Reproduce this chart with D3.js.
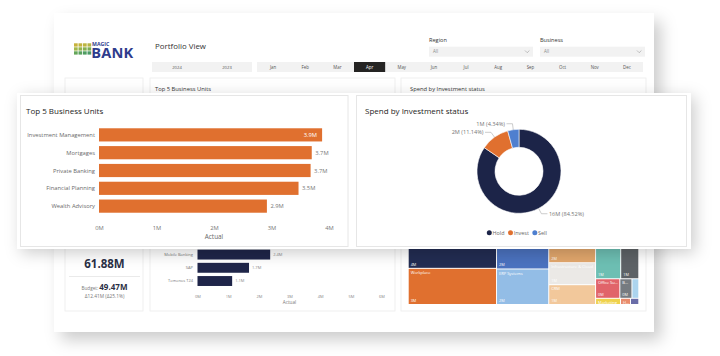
<!DOCTYPE html>
<html><head><meta charset="utf-8">
<script src="https://cdn.jsdelivr.net/npm/d3@7"></script>
<style>html,body{margin:0;padding:0;background:#fff;overflow:hidden}svg{display:block;font-family:"Open Sans",sans-serif}</style>
</head><body><svg id="c" width="720" height="356"></svg>
<script>
// ---------- data ----------
const unitNames  = ["Investment Management","Mortgages","Private Banking","Financial Planning","Wealth Advisory"];
const unitActual = [3.88,3.70,3.68,3.47,2.92];
const unitTicks  = [0,1,2,3,4];

const statusNames = ["Hold","Invest","Sell"];
const statusSpend = [16.35,2.155,0.8395];

const bgUnitNames  = ["Mobile Banking","SAP","Temenos T24"];
const bgUnitActual = [2.37,1.68,1.13];
const bgUnitTicks  = [0,1,2,3,4,5,6];

const kpiActual = 61.88;
const kpiBudget = 49.47;

const years  = ["2024","2023"];
const months = ["Jan","Feb","Mar","Apr","May","Jun","Jul","Aug","Sep","Oct","Nov","Dec"];
const selectedMonth = "Apr";

const tmNames  = ["Digital Channels","Workplace","Core Banking","ERP Systems","Security","Infrastructure & Cloud","CRM","Support","Development","Office Suite","Business Intelligence","Analytics","Marketing","HR Systems","Compliance"];
const tmValues = [3.5,3.1,2.1,1.8,1.6,1.0,0.9,1.25,0.9,0.46,0.23,0.13,0.15,0.06,0.05];
const tmGroup  = ["A","A","B","B","C","C","C","D/1","D/1","D/2","D/2","D/2","D/3","D/3","D/3"];
const tmColors = ["#222c52","#e0702f","#4b72bf","#93bde6","#e2a76c","#ebe9e6","#f2c89b","#6dbfb3","#5d6266","#e1646a","#767b80","#acd4ee","#efd24c","#e98c6c","#6a6da8"];

// ---------- styles ----------
const ORANGE="#e0702f";
const statusColors = ["#1c2448","#e0702f","#4f7fcf"];
const OVERLAY_BOTTOM = 249;

const svg = d3.select("#c");
const defs = svg.append("defs");
function shadow(id,dx,dy,sd,op){
  defs.append("filter").attr("id",id).attr("x","-20%").attr("y","-20%").attr("width","140%").attr("height","150%")
    .append("feDropShadow").attr("dx",dx).attr("dy",dy).attr("stdDeviation",sd).attr("flood-color","#000").attr("flood-opacity",op);
}
shadow("shBg",7,8,8,0.2);
shadow("shOv",4,4,8,0.2);

// ---------- background dashboard ----------
const bg = svg.append("g");
bg.append("rect").attr("x",54).attr("y",13).attr("width",600).attr("height",319).attr("fill","#fff").attr("filter","url(#shBg)");

// logo
const logoRows=[["#c7b23c","#c2b33e","#bdb541","#b5b444"],["#a2b84a","#92b34c","#86b04f","#7cad52"],["#64a659","#58a15d","#4f9d61","#4a9a66"]];
logoRows.forEach((row,r)=>row.forEach((c,k)=>{
  bg.append("rect").attr("x",74+k*4.5).attr("y",43.3+r*4).attr("width",3.7).attr("height",3.3).attr("fill",c);
}));
bg.append("text").attr("x",92).attr("y",46.2).attr("font-size",5.2).attr("font-weight",700).attr("fill","#2f3c8c").text("MAGIC");
bg.append("text").attr("x",91.2).attr("y",58.4).attr("font-size",14.6).attr("font-weight",700).attr("fill","#2f3c8c").attr("letter-spacing",0.2).text("BANK");

bg.append("text").attr("x",155).attr("y",48.5).attr("font-size",7.9).attr("fill","#333").text("Portfolio View");

// year slicer
const xYear = d3.scaleBand().domain(years).range([152,252]);
bg.append("rect").attr("x",152).attr("y",62).attr("width",100).attr("height",10).attr("fill","#f2f2f2");
bg.selectAll(".yr").data(years).join("text").attr("x",d=>xYear(d)+xYear.bandwidth()/2).attr("y",68.6)
  .attr("text-anchor","middle").attr("font-size",4.2).attr("fill","#555").text(d=>d);

// month slicer
const xMonth = d3.scaleBand().domain(months).range([257,643]);
bg.append("rect").attr("x",257).attr("y",62).attr("width",386).attr("height",10).attr("fill","#f2f2f2");
bg.append("rect").attr("x",xMonth(selectedMonth)+0.5).attr("y",62).attr("width",xMonth.bandwidth()-1).attr("height",10).attr("fill","#252423");
bg.selectAll(".mo").data(months).join("text").attr("x",d=>xMonth(d)+xMonth.bandwidth()/2).attr("y",68.6)
  .attr("text-anchor","middle").attr("font-size",4.4).attr("fill",d=>d===selectedMonth?"#fff":"#555").text(d=>d);

// dropdowns
[["Region",429,104],["Business",540,105]].forEach(([lab,x,w])=>{
  bg.append("text").attr("x",x).attr("y",41.5).attr("font-size",5.6).attr("fill","#333").text(lab);
  bg.append("rect").attr("x",x).attr("y",46.7).attr("width",w).attr("height",10).attr("fill","#f2f2f2");
  bg.append("text").attr("x",x+4).attr("y",53.3).attr("font-size",4.4).attr("fill","#888").text("All");
  bg.append("path").attr("d",`M${x+w-8},50.5 l2.2,2.2 l2.2,-2.2`).attr("fill","none").attr("stroke","#999").attr("stroke-width",0.6);
});

// background cards
[[65,78,78,233],[150,78,245,233],[401,78,245,233]].forEach(([x,y,w,h])=>{
  bg.append("rect").attr("x",x).attr("y",y).attr("width",w).attr("height",h).attr("fill","#fff").attr("stroke","#ececec").attr("stroke-width",0.8);
});
bg.append("text").attr("x",155).attr("y",90.5).attr("font-size",5.8).attr("fill","#333").text("Top 5 Business Units");
bg.append("text").attr("x",410).attr("y",90.5).attr("font-size",5.8).attr("fill","#333").text("Spend by Investment status");

// KPI
bg.append("text").attr("x",104.5).attr("y",268).attr("text-anchor","middle").attr("font-size",11.5).attr("font-weight",700).attr("fill","#2b3046").text(d3.format(".2f")(kpiActual)+"M");
bg.append("line").attr("x1",69).attr("x2",140).attr("y1",276.5).attr("y2",276.5).attr("stroke","#e4e4e4").attr("stroke-width",0.8);
const bt = bg.append("text").attr("x",104.5).attr("y",289.5).attr("text-anchor","middle");
bt.append("tspan").attr("font-size",4.6).attr("fill","#777").text("Budget: ");
bt.append("tspan").attr("font-size",8).attr("font-weight",700).attr("fill","#2b3046").text(d3.format(".2f")(kpiBudget)+"M");
const delta = kpiActual-kpiBudget;
bg.append("text").attr("x",104.5).attr("y",297.5).attr("text-anchor","middle").attr("font-size",4.8).attr("fill","#777")
  .text("Δ"+d3.format(".2f")(delta)+"M (Δ"+d3.format(".1f")(delta/kpiBudget*100)+"%)");

// background navy bar chart
const bx = d3.scaleLinear().domain([0,6]).range([197.5,381.5]);
const by = d3.scaleBand().domain(bgUnitNames).range([248.3,287.3]).paddingInner(0.25).paddingOuter(0.1);
bg.selectAll(".bb").data(bgUnitNames).join("rect").attr("x",bx(0)).attr("y",d=>by(d))
  .attr("width",(d,i)=>bx(bgUnitActual[i])-bx(0)).attr("height",by.bandwidth()).attr("fill","#1f2549");
bg.selectAll(".bl").data(bgUnitNames).join("text").attr("x",193).attr("y",d=>by(d)+by.bandwidth()/2+1.4)
  .attr("text-anchor","end").attr("font-size",4).attr("fill","#777").text(d=>d);
bg.selectAll(".bv").data(bgUnitNames).join("text").attr("x",(d,i)=>bx(bgUnitActual[i])+3).attr("y",d=>by(d)+by.bandwidth()/2+1.4)
  .attr("font-size",4).attr("fill","#888").text((d,i)=>d3.format(".1f")(bgUnitActual[i])+"M");
const bgAxis = bg.append("g").attr("transform","translate(0,291)")
  .call(d3.axisBottom(bx).tickValues(bgUnitTicks).tickFormat(d=>d+"M").tickSize(0).tickPadding(4));
bgAxis.select(".domain").remove();
bgAxis.selectAll("text").attr("font-size",4).attr("fill","#888").attr("font-family","Open Sans");
bg.append("text").attr("x",(bx(0)+bx(6))/2).attr("y",304).attr("text-anchor","middle").attr("font-size",4.6).attr("fill","#777").text("Actual");

// treemap
const groups = {};
tmNames.forEach((n,i)=>{
  const parts = tmGroup[i].split("/");
  let top = groups[parts[0]] || (groups[parts[0]] = {name:parts[0],children:[]});
  let parent = top;
  if(parts[1]){
    let sub = top.children.find(c=>c.name===parts[1]);
    if(!sub){ sub={name:parts[1],children:[]}; top.children.push(sub); }
    parent = sub;
  }
  parent.children.push({name:n,value:tmValues[i],color:tmColors[i]});
});
const TM_X=408.7, TM_Y=228;
const root = d3.hierarchy({name:"root",children:Object.values(groups)}).sum(d=>d.value||0);
d3.treemap().tile(d3.treemapSliceDice).size([229.6,76]).paddingInner(1)(root);
const tm = bg.append("g").attr("transform",`translate(${TM_X},${TM_Y})`);
const leaves = root.leaves();
const cell = tm.selectAll("g").data(leaves).join("g").attr("transform",d=>`translate(${d.x0},${d.y0})`);
cell.append("rect").attr("width",d=>Math.max(0,d.x1-d.x0)).attr("height",d=>Math.max(0,d.y1-d.y0)).attr("fill",d=>d.data.color);
function fit(sel,w){
  sel.each(function(){
    const t=d3.select(this); let s=t.text();
    if(this.getComputedTextLength()<=w) return;
    while(s.length>1 && this.getComputedTextLength()>w){ s=s.slice(0,-1); t.text(s+"..."); }
  });
}
// names sit at the top of each cell; those hidden under the overlay card are not drawn
cell.filter(d=>d.y1-d.y0>5 && d.x1-d.x0>8 && TM_Y+d.y0>OVERLAY_BOTTOM).append("text").attr("x",2).attr("y",5.2).attr("font-size",4).attr("fill","#fff")
  .text(d=>d.data.name).call(s=>s.each(function(d){fit(d3.select(this),d.x1-d.x0-3);}));
cell.filter(d=>d.y1-d.y0>14 && d.x1-d.x0>10).append("text").attr("x",2).attr("y",d=>d.y1-d.y0-2).attr("font-size",3.8).attr("fill","#fff")
  .text(d=>d3.format(".0f")(d.value)+"M");

// ---------- overlay ----------
const ov = svg.append("g");
ov.append("rect").attr("x",17).attr("y",93).attr("width",674).attr("height",156).attr("fill","#fff").attr("filter","url(#shOv)");
ov.append("rect").attr("x",20.5).attr("y",95.5).attr("width",327.5).attr("height",151).attr("fill","#fff").attr("stroke","#e6e6e6");
ov.append("rect").attr("x",356.5).attr("y",95.5).attr("width",330).attr("height",151).attr("fill","#fff").attr("stroke","#e6e6e6");

// left: Top 5 Business Units
ov.append("text").attr("x",26).attr("y",113.5).attr("font-size",8).attr("fill","#252423").text("Top 5 Business Units");
const x = d3.scaleLinear().domain([0,4]).range([99,329]);
const y = d3.scaleBand().domain(unitNames).range([126.5,214.5]).paddingInner(0.26).paddingOuter(0.1);
ov.selectAll(".bar").data(unitNames).join("rect").attr("x",x(0)).attr("y",d=>y(d))
  .attr("width",(d,i)=>x(unitActual[i])-x(0)).attr("height",y.bandwidth()).attr("fill",ORANGE);
ov.selectAll(".cat").data(unitNames).join("text").attr("x",95).attr("y",d=>y(d)+y.bandwidth()/2+2.1)
  .attr("text-anchor","end").attr("font-size",5.8).attr("fill","#6a6a6a").text(d=>d);
ov.selectAll(".val").data(unitNames).join("text")
  .each(function(d,i){
    const inside = x(unitActual[i])+30>348;
    d3.select(this).attr("x",inside?x(unitActual[i])-5:x(unitActual[i])+3.5).attr("text-anchor",inside?"end":"start")
      .attr("fill",inside?"#fff":"#777");
  })
  .attr("y",d=>y(d)+y.bandwidth()/2+2.1).attr("font-size",5.8).text((d,i)=>d3.format(".1f")(unitActual[i])+"M");
const ax = ov.append("g").attr("transform","translate(0,220)")
  .call(d3.axisBottom(x).tickValues(unitTicks).tickFormat(d=>d+"M").tickSize(0).tickPadding(6));
ax.select(".domain").remove();
ax.selectAll("text").attr("font-size",5.8).attr("fill","#777").attr("font-family","Open Sans");
ov.append("text").attr("x",(x(0)+x(4))/2).attr("y",238.5).attr("text-anchor","middle").attr("font-size",6.4).attr("fill","#666").text("Actual");

// right: donut
ov.append("text").attr("x",365).attr("y",113.5).attr("font-size",8).attr("fill","#252423").text("Spend by Investment status");
const cx=519, cy=171.3, rO=42, rI=24;
const total = d3.sum(statusSpend);
const pie = d3.pie().sort(null).value(d=>d);
const arcs = pie(statusSpend);
const arc = d3.arc().innerRadius(rI).outerRadius(rO);
const dg = ov.append("g").attr("transform",`translate(${cx},${cy})`);
dg.selectAll("path").data(arcs).join("path").attr("d",arc).attr("fill",(d,i)=>statusColors[i]).attr("stroke","#fff").attr("stroke-width",0.6);
arcs.forEach((a,i)=>{
  const m=(a.startAngle+a.endAngle)/2, s=Math.sin(m), c=-Math.cos(m);
  const A=[s*rO,c*rO], B=[s*(rO+6),c*(rO+6)];
  const dir = s>=0?1:-1;
  const C=[B[0]+dir*6,B[1]];
  dg.append("polyline").attr("points",[A,B,C].map(p=>p.join(",")).join(" ")).attr("fill","none").attr("stroke","#aaa").attr("stroke-width",0.6);
  dg.append("text").attr("x",C[0]+dir*1.5).attr("y",C[1]+2).attr("text-anchor",dir>0?"start":"end")
    .attr("font-size",5.6).attr("fill","#777")
    .text(d3.format(".0f")(statusSpend[i])+"M ("+d3.format(".2f")(statusSpend[i]/total*100)+"%)");
});
// legend
let lx = 489.3;
statusNames.forEach((n,i)=>{
  ov.append("circle").attr("cx",lx).attr("cy",232.7).attr("r",2.5).attr("fill",statusColors[i]);
  const t = ov.append("text").attr("x",lx+3.3).attr("y",234.7).attr("font-size",5.4).attr("fill","#666").text(n);
  lx += 3.3 + t.node().getComputedTextLength() + 6;
});
</script></body></html>
